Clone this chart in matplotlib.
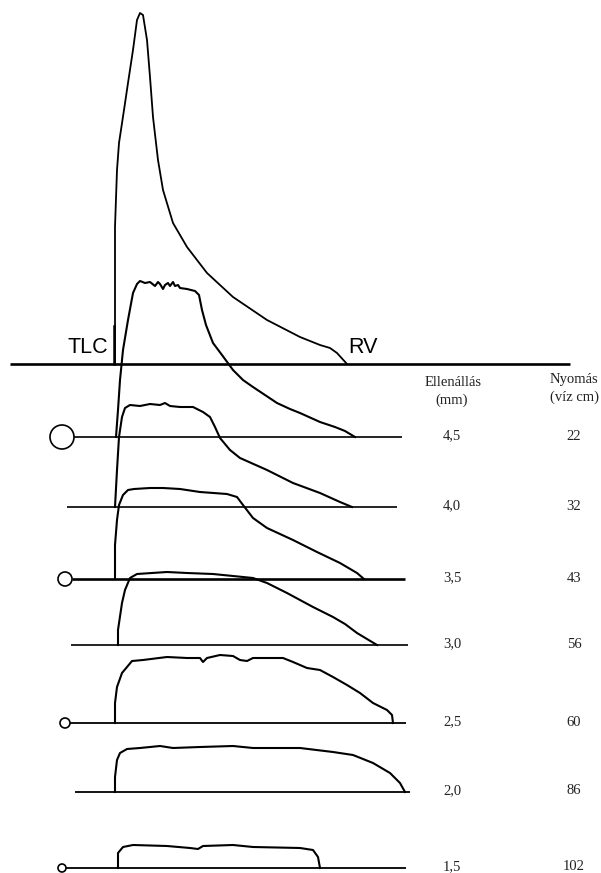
import numpy as np
import matplotlib.pyplot as plt

# flow-volume curves: volume from TLC, flow above each curve's own baseline
normal_vol = [0, 0, 2, 4, 9, 13, 18, 22, 25, 28, 32, 35, 38, 43, 48, 58, 72, 92, 118, 152, 185, 205, 215, 222, 232]
normal_flow = [0, 137, 194, 221, 254, 281, 314, 344, 351, 349, 324, 287, 247, 204, 174, 141, 117, 91, 67, 44, 27, 19, 16, 11, 0]

curves_vol = [
    [1, 3, 5, 8, 13, 18, 22, 25, 30, 35, 40, 43, 45, 48, 50, 53, 55, 58, 60, 63, 65, 72, 80, 84, 87, 91, 98, 107, 118, 128, 138, 150, 162, 175, 185, 205, 220, 230, 240],
    [0, 2, 4, 7, 10, 15, 25, 35, 45, 50, 55, 65, 78, 88, 95, 100, 105, 115, 125, 152, 178, 205, 225, 237],
    [0, 0, 2, 4, 8, 13, 19, 35, 48, 65, 85, 112, 122, 128, 138, 152, 178, 202, 225, 242, 249],
    [3, 3, 7, 10, 15, 22, 52, 72, 98, 118, 138, 152, 172, 198, 218, 230, 242, 262],
    [0, 0, 2, 7, 12, 17, 28, 52, 72, 85, 88, 92, 105, 118, 125, 132, 138, 168, 178, 192, 205, 218, 232, 245, 258, 272, 277, 278],
    [0, 0, 2, 5, 12, 25, 45, 58, 85, 118, 138, 185, 218, 238, 258, 275, 285, 290],
    [3, 3, 8, 18, 52, 75, 83, 88, 118, 138, 185, 198, 203, 205],
]
curves_flow = [
    [0, 27, 57, 87, 117, 144, 153, 156, 154, 155, 151, 155, 153, 148, 152, 154, 151, 155, 151, 152, 149, 148, 146, 142, 127, 112, 94, 82, 67, 57, 50, 42, 34, 28, 24, 15, 10, 6, 0],
    [0, 37, 70, 90, 99, 102, 101, 103, 102, 104, 101, 100, 100, 95, 90, 80, 69, 57, 49, 37, 24, 14, 5, 0],
    [0, 34, 59, 74, 84, 89, 90, 91, 91, 90, 87, 85, 82, 74, 61, 51, 39, 27, 16, 6, 0],
    [0, 15, 42, 55, 67, 71, 73, 72, 71, 69, 67, 62, 52, 38, 28, 21, 12, 0],
    [0, 20, 36, 50, 56, 62, 63, 66, 65, 65, 61, 65, 68, 67, 63, 62, 65, 65, 61, 55, 53, 46, 38, 30, 20, 13, 8, 0],
    [0, 15, 32, 39, 43, 44, 46, 44, 45, 46, 44, 44, 40, 37, 29, 19, 9, 0],
    [0, 15, 21, 23, 22, 20, 19, 22, 23, 21, 20, 18, 11, 0],
]
resistance = ["4,5", "4,0", "3,5", "3,0", "2,5", "2,0", "1,5"]
pressure = ["22", "32", "43", "56", "60", "86", "102"]

# layout (pixels)
tlc_x = 115
normal_base = 364
bases = [437, 507, 579, 645, 723, 792, 868]
line_x0 = [74, 67, 72, 71, 70, 75, 66]
line_x1 = [402, 397, 405, 408, 406, 410, 406]
line_w = [1.2, 1.2, 1.9, 1.2, 1.3, 1.3, 1.3]
circle_r = {0: 12, 2: 7, 4: 5, 6: 4}

fig = plt.figure(figsize=(6.01, 8.73), dpi=100)
ax = fig.add_axes([0, 0, 1, 1])
ax.set_xlim(0, 601)
ax.set_ylim(873, 0)
ax.axis('off')

# normal curve
ax.plot([10, 570], [normal_base, normal_base], color='black', lw=1.9, solid_capstyle='butt')
ax.plot([tlc_x - 1, tlc_x - 1], [normal_base, normal_base - 38], color='black', lw=1.8)
ax.plot(tlc_x + np.array(normal_vol), normal_base - np.array(normal_flow), color='black', lw=1.3)
ax.text(108, 358, "TLC", ha='right', va='bottom', fontsize=15.5, family='Liberation Sans')
ax.text(348, 358, "RV", ha='left', va='bottom', fontsize=15.5, family='Liberation Sans')

serif = 'Liberation Serif'
fs = 10.5
ax.text(453, 383, "Ellenállás", ha='center', va='center', fontsize=fs, family=serif, color='#222222')
ax.text(452, 400, "(mm)", ha='center', va='center', fontsize=fs, family=serif, color='#222222')
ax.text(574, 380, "Nyomás", ha='center', va='center', fontsize=fs, family=serif, color='#222222')
ax.text(574, 397, "(víz cm)", ha='center', va='center', fontsize=fs, family=serif, color='#222222')

for i, base in enumerate(bases):
    ax.plot([line_x0[i], line_x1[i]], [base, base], color='black', lw=line_w[i], solid_capstyle='butt')
    if i in circle_r:
        r = circle_r[i]
        ax.add_patch(plt.Circle((line_x0[i] - r, base), r, fill=False, ec='black', lw=1.2))
    ax.plot(tlc_x + np.array(curves_vol[i]), base - np.array(curves_flow[i]), color='black', lw=1.5)
    ax.text(452, base - 1, resistance[i], ha='center', va='center', fontsize=fs, family=serif, color='#222222')
    ax.text(574, base - 1, pressure[i], ha='center', va='center', fontsize=fs, family=serif, color='#222222')

fig.savefig('out.png', dpi=100)
